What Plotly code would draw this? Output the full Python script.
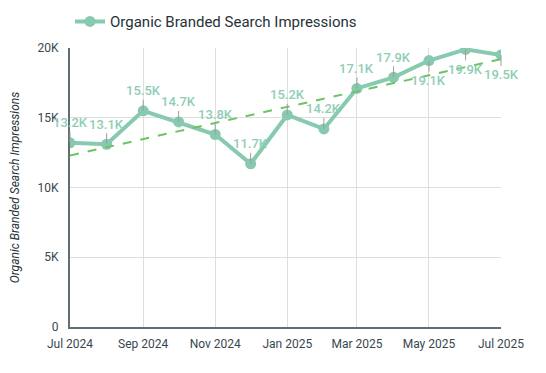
import plotly.graph_objects as go

months = ["2024-07-01", "2024-08-01", "2024-09-01", "2024-10-01", "2024-11-01", "2024-12-01",
          "2025-01-01", "2025-02-01", "2025-03-01", "2025-04-01", "2025-05-01", "2025-06-01", "2025-07-01"]
impressions = [13200, 13100, 15500, 14700, 13800, 11700, 15200, 14200, 17100, 17900, 19100, 19900, 19500]
labels = ["13.2K", "13.1K", "15.5K", "14.7K", "13.8K", "11.7K", "15.2K", "14.2K", "17.1K", "17.9K", "19.1K", "19.9K", "19.5K"]
label_below = [False, False, False, False, False, False, False, False, False, False, True, True, True]
trend_x = ["2024-07-01", "2025-07-01"]
trend_y = [12300, 19200]
y_ticks = [0, 5000, 10000, 15000, 20000]
y_ticklabels = ["0", "5K", "10K", "15K", "20K"]

series_name = "Organic Branded Search Impressions"
line_color = "#88caaf"
label_color = "#8fceb4"
trend_color = "#6cc462"

fig = go.Figure()
fig.add_trace(go.Scatter(
    x=months, y=impressions, mode="lines+markers", name=series_name,
    line=dict(color=line_color, width=4),
    marker=dict(color=line_color, size=11),
))
fig.add_trace(go.Scatter(
    x=trend_x, y=trend_y, mode="lines", showlegend=False, hoverinfo="skip",
    line=dict(color=trend_color, width=2, dash="dash"),
))

for xv, yv, txt, below in zip(months, impressions, labels, label_below):
    fig.add_annotation(
        x=xv, y=yv, text=txt, showarrow=True, arrowhead=0, arrowwidth=1,
        arrowcolor="#9e9e9e", ax=0, ay=20 if below else -20,
        font=dict(family="Roboto", size=13, color=label_color, weight=500),
    )

fig.update_layout(
    width=538, height=365,
    margin=dict(l=62, r=45, t=40, b=46, autoexpand=False),
    paper_bgcolor="white", plot_bgcolor="white",
    font=dict(family="Roboto", color="#37474f", size=12),
    showlegend=True,
    legend=dict(orientation="h", x=0.0, xanchor="left", y=1.035, yanchor="bottom",
                font=dict(size=15, color="#263238"), bgcolor="rgba(0,0,0,0)"),
    xaxis=dict(
        range=["2024-07-01", "2025-07-01"], dtick="M2", tick0="2024-07-01",
        tickformat="%b %Y", showgrid=True, gridcolor="#dedede", gridwidth=1,
        showline=True, linecolor="#5f6f73", linewidth=2, ticks="", zeroline=False,
        ticklabelstandoff=5,
        tickfont=dict(size=12, color="#37474f"),
    ),
    yaxis=dict(
        range=[0, 20000], tickvals=y_ticks, ticktext=y_ticklabels,
        showgrid=True, gridcolor="#dedede", gridwidth=1,
        showline=True, linecolor="#5f6f73", linewidth=2, ticks="", zeroline=False,
        ticklabelstandoff=7,
        tickfont=dict(size=12, color="#37474f"),
        title=dict(text="<i>Organic Branded Search Impressions</i>",
                   font=dict(size=12, color="#263238"), standoff=21),
    ),
)

fig.write_html("out.html")
